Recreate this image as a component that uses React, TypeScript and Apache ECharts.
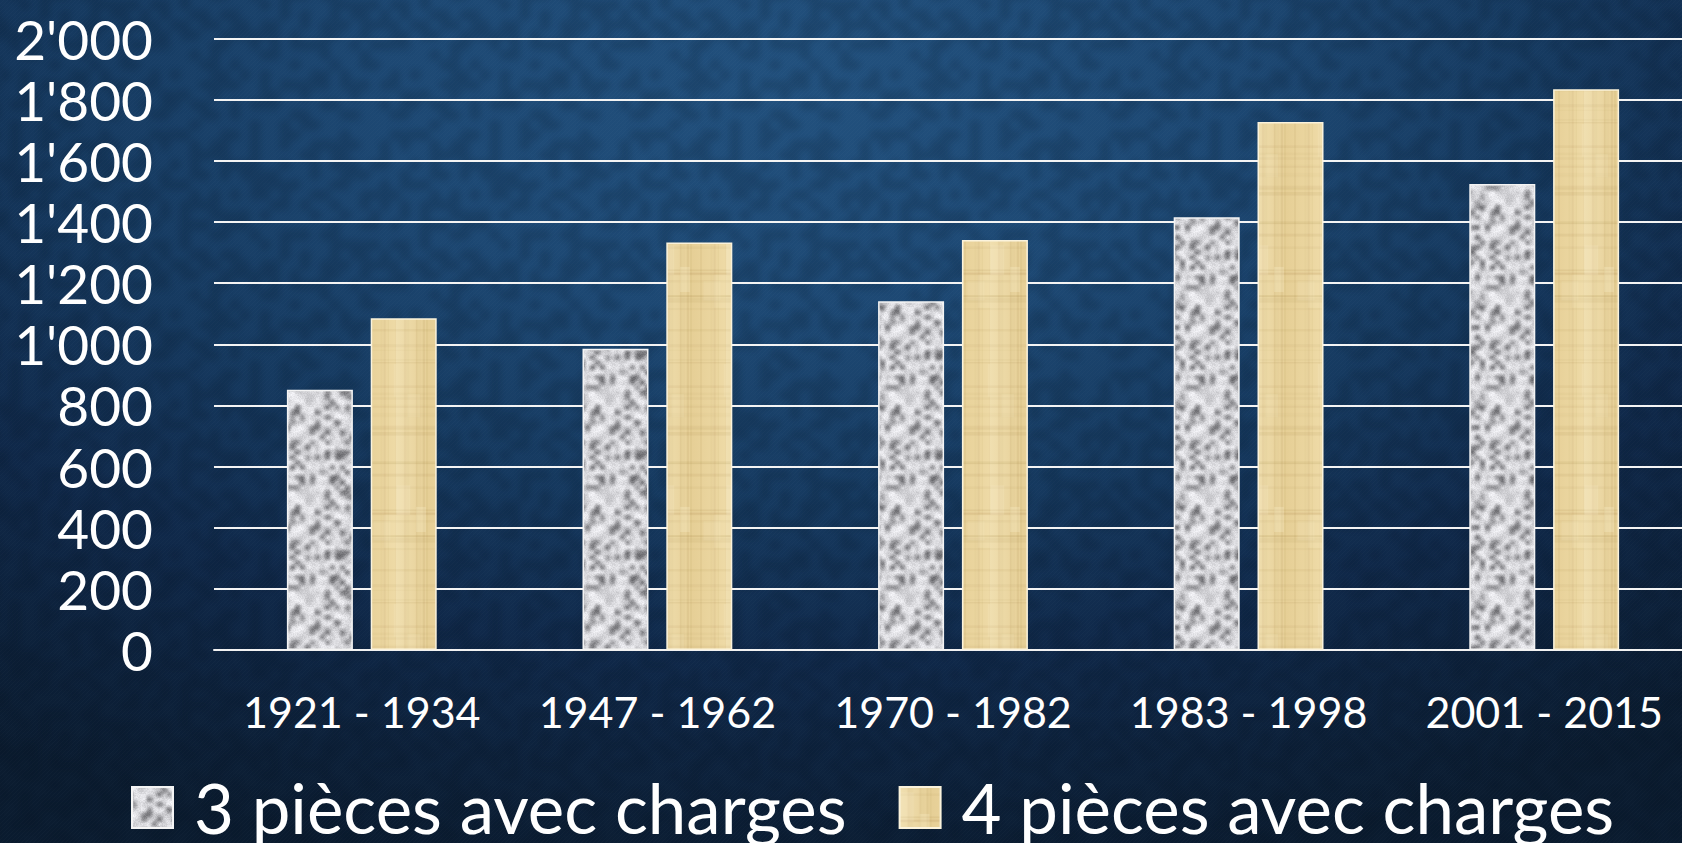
import React, { useEffect, useRef } from "react";
import * as echarts from "echarts";

const categories = ["1921 - 1934", "1947 - 1962", "1970 - 1982", "1983 - 1998", "2001 - 2015"];
const seriesNames = ["3 pièces avec charges", "4 pièces avec charges"];
const threeRooms = [851, 985, 1141, 1415, 1524];
const fourRooms = [1085, 1333, 1341, 1727, 1834];
const yMin = 0;
const yMax = 2000;
const yInterval = 200;

function seeded(seed: number) {
  let a = seed;
  return () => {
    a |= 0;
    a = (a + 0x6d2b79f5) | 0;
    let t = Math.imul(a ^ (a >>> 15), 1 | a);
    t = (t + Math.imul(t ^ (t >>> 7), 61 | t)) ^ t;
    return ((t ^ (t >>> 14)) >>> 0) / 4294967296;
  };
}

// Builds a seamless smooth-noise tile by upscaling a small noise grid tiled 3x3 and cropping the middle.
function seamlessNoise(n: number, size: number, seed: number, fill: (r: number, d: Uint8ClampedArray, i: number) => void): HTMLCanvasElement {
  const rnd = seeded(seed);
  const small = document.createElement("canvas");
  small.width = n;
  small.height = n;
  const sctx = small.getContext("2d")!;
  const img = sctx.createImageData(n, n);
  for (let i = 0; i < n * n; i++) fill(rnd(), img.data, i * 4);
  sctx.putImageData(img, 0, 0);
  const tiled = document.createElement("canvas");
  tiled.width = n * 3;
  tiled.height = n * 3;
  const tctx = tiled.getContext("2d")!;
  for (let a = 0; a < 3; a++) for (let b = 0; b < 3; b++) tctx.drawImage(small, a * n, b * n);
  const c = document.createElement("canvas");
  c.width = size;
  c.height = size;
  const ctx = c.getContext("2d")!;
  ctx.imageSmoothingEnabled = true;
  ctx.imageSmoothingQuality = "high";
  ctx.drawImage(tiled, -size, -size, size * 3, size * 3);
  return c;
}

function graniteTexture(): HTMLCanvasElement {
  const c = seamlessNoise(20, 100, 12345, (r, d, i) => {
    const v = r < 0.25 ? 105 + r * 200 : 180 + r * 60;
    d[i] = v;
    d[i + 1] = v;
    d[i + 2] = v + 4;
    d[i + 3] = 255;
  });
  const rnd = seeded(99);
  const ctx = c.getContext("2d")!;
  const fine = ctx.getImageData(0, 0, 100, 100);
  for (let i = 0; i < 10000; i++) {
    const d = (rnd() - 0.5) * 22;
    fine.data[i * 4] += d;
    fine.data[i * 4 + 1] += d;
    fine.data[i * 4 + 2] += d;
  }
  ctx.putImageData(fine, 0, 0);
  return c;
}

function papyrusTexture(): HTMLCanvasElement {
  const rnd = seeded(777);
  const c = document.createElement("canvas");
  c.width = 66;
  c.height = 240;
  const ctx = c.getContext("2d")!;
  const g = ctx.createLinearGradient(0, 0, 66, 0);
  g.addColorStop(0, "#f0dfb0");
  g.addColorStop(0.5, "#e6cf96");
  g.addColorStop(1, "#eedaa6");
  ctx.fillStyle = g;
  ctx.fillRect(0, 0, 66, 240);
  for (let i = 0; i < 30; i++) {
    const y = rnd() * 240;
    ctx.fillStyle = `rgba(150,115,50,${0.03 + rnd() * 0.06})`;
    ctx.fillRect(0, y, 66, 1 + rnd() * 2);
  }
  for (let i = 0; i < 14; i++) {
    const x = rnd() * 66;
    ctx.fillStyle = `rgba(150,115,50,${0.03 + rnd() * 0.05})`;
    ctx.fillRect(x, 0, 1 + rnd() * 2, 240);
  }
  for (let i = 0; i < 6; i++) {
    ctx.fillStyle = `rgba(255,245,215,${0.1 + rnd() * 0.15})`;
    ctx.fillRect(rnd() * 66, rnd() * 240, 8 + rnd() * 20, 10 + rnd() * 40);
  }
  return c;
}

function damaskTexture(): string {
  const size = 240;
  const c = seamlessNoise(24, size, 4242, (r, d, i) => {
    d[i] = 0;
    d[i + 1] = 12;
    d[i + 2] = 30;
    d[i + 3] = r > 0.55 ? 38 : 0;
  });
  const ctx = c.getContext("2d")!;
  ctx.strokeStyle = "rgba(255,255,255,0.02)";
  ctx.lineWidth = 1;
  for (let k = -size; k < size * 2; k += 4) {
    ctx.beginPath();
    ctx.moveTo(k, size);
    ctx.lineTo(k + size, 0);
    ctx.stroke();
  }
  return c.toDataURL();
}

const fmt = (v: number) => {
  if (v >= 1000) {
    const th = Math.floor(v / 1000);
    const rest = String(v % 1000).padStart(3, "0");
    return `${th}'${rest}`;
  }
  return String(v);
};

export default function App() {
  const ref = useRef<HTMLDivElement>(null);
  const bgRef = useRef<HTMLDivElement>(null);
  useEffect(() => {
    if (!ref.current) return;
    if (bgRef.current) {
      bgRef.current.style.backgroundImage = `url(${damaskTexture()})`;
    }
    const chart = echarts.init(ref.current, undefined, { renderer: "svg" });
    const granite = graniteTexture();
    const papyrus = papyrusTexture();
    const font = "Lato, 'Liberation Sans', sans-serif";
    chart.setOption({
      animation: false,
      backgroundColor: "transparent",
      grid: { left: 214, top: 38.5, width: 1478, height: 611.5, containLabel: false },
      legend: {
        left: 131,
        top: 773,
        padding: 0,
        icon: "rect",
        itemWidth: 41,
        itemHeight: 41,
        itemGap: 52,
        textStyle: {
          color: "#ffffff",
          fontSize: 69,
          lineHeight: 62,
          fontFamily: font,
          padding: [0, 0, 0, 16],
        },
        data: seriesNames,
      },
      xAxis: {
        type: "category",
        data: categories,
        axisLine: { show: true, lineStyle: { color: "#f2f2f2", width: 2 } },
        axisTick: { show: false },
        axisLabel: { color: "#ffffff", fontSize: 43, fontFamily: font, margin: 40, interval: 0 },
      },
      yAxis: {
        type: "value",
        min: yMin,
        max: yMax,
        interval: yInterval,
        axisLine: { show: false },
        axisTick: { show: false },
        axisLabel: { color: "#ffffff", fontSize: 55, fontFamily: font, margin: 61, formatter: fmt },
        splitLine: {
          show: true,
          lineStyle: { color: "#f4f4f4", width: 2, type: "solid" },
        },
      },
      series: [
        {
          name: seriesNames[0],
          type: "bar",
          data: threeRooms,
          barWidth: 66,
          barGap: "27%",
          itemStyle: {
            color: { image: granite, repeat: "repeat" },
            borderColor: "#f4f4f4",
            borderWidth: 1.5,
          },
        },
        {
          name: seriesNames[1],
          type: "bar",
          data: fourRooms,
          barWidth: 66,
          barGap: "27%",
          itemStyle: {
            color: { image: papyrus, repeat: "repeat" },
            borderColor: "#fbf3dc",
            borderWidth: 1.5,
          },
        },
      ],
    });
    return () => chart.dispose();
  }, []);
  return (
    <div
      style={{
        position: "absolute",
        left: 0,
        top: 0,
        width: 1682,
        height: 843,
        overflow: "hidden",
        background:
          "radial-gradient(ellipse 85% 95% at 48% 10%, #22517e 0%, #1d4873 30%, #163a60 52%, #10294a 72%, #0b1c30 100%)",
      }}
    >
      <div ref={bgRef} style={{ position: "absolute", left: 0, top: 0, width: 1682, height: 843 }} />
      <div ref={ref} style={{ position: "absolute", left: 0, top: 0, width: 1720, height: 843 }} />
    </div>
  );
}
